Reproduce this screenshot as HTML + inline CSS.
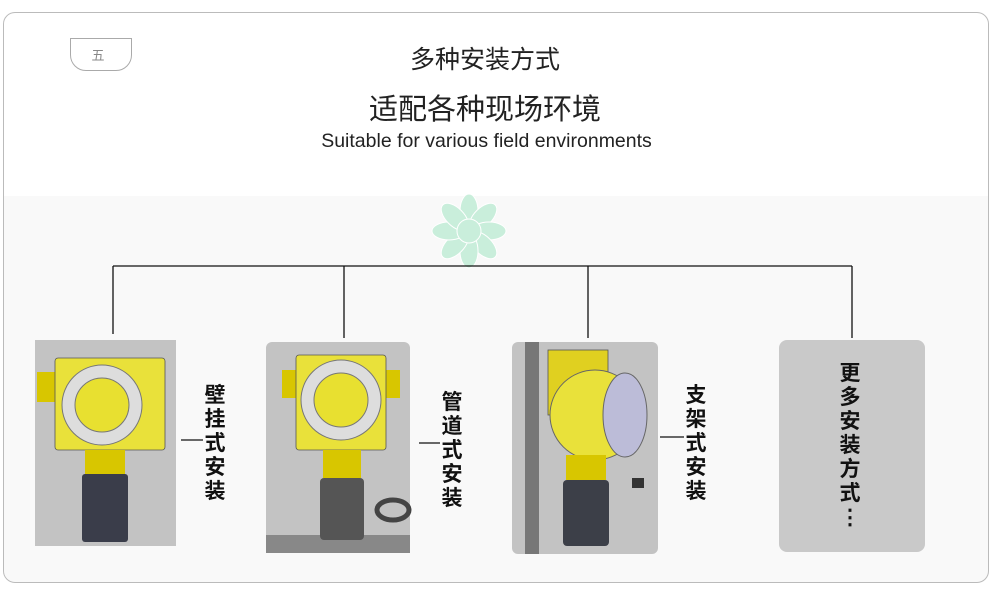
<!DOCTYPE html>
<html><head><meta charset="utf-8"><style>
body{margin:0;width:997px;height:598px;background:#fff;position:relative;overflow:hidden;font-family:"Liberation Sans","Noto Sans CJK SC",sans-serif}
.abs{position:absolute}
.vt{position:absolute;font-size:21px;line-height:24px;color:#111;width:24px;text-align:center;font-weight:bold}
</style></head><body>
<div class="abs" style="left:4px;top:196px;width:985px;height:386px;background:#f9f9f9;border-radius:0 0 12px 12px"></div>
<div class="abs" style="left:3px;top:12px;width:984px;height:569px;border:1px solid #bbb;border-radius:12px"></div>
<div class="abs" style="left:70px;top:38px;width:62px;height:33px;border:1px solid #aaa;border-radius:0 0 16px 16px;font-size:13px;color:#888;text-align:center;line-height:34px;padding-right:6px;box-sizing:border-box">五</div>
<div class="abs" style="left:0;width:970px;top:44px;text-align:center;font-size:25px;line-height:32px;color:#222">多种安装方式</div>
<div class="abs" style="left:0;width:970px;top:91px;text-align:center;font-size:29px;line-height:38px;color:#222">适配各种现场环境</div>
<div class="abs" style="left:0;width:973px;top:129px;text-align:center;font-size:19.5px;line-height:24px;color:#222">Suitable for various field environments</div>
<svg class="abs" style="left:0;top:0" width="997" height="598">
<g transform="translate(469,231)" fill="#c9eedb" stroke="#fff" stroke-width="1">
<g id="p"><ellipse cx="0" cy="-20" rx="9" ry="17"/></g>
<use href="#p" transform="rotate(45)"/><use href="#p" transform="rotate(90)"/><use href="#p" transform="rotate(135)"/><use href="#p" transform="rotate(180)"/><use href="#p" transform="rotate(225)"/><use href="#p" transform="rotate(270)"/><use href="#p" transform="rotate(315)"/>
<circle r="12"/>
</g>
<g stroke="#111" stroke-width="1.3" fill="none">
<path d="M113 266H852M113 266V334M344 266V338M588 266V338M852 266V338"/>
<path d="M181 440H203M419 443H440M660 437H684"/>
</g>
<rect x="35" y="340" width="141" height="206" fill="#c3c3c3"/>
<g>
<rect x="37" y="372" width="108" height="30" fill="#d8c600"/>
<rect x="55" y="358" width="110" height="92" rx="3" fill="#e9e13a" stroke="#555" stroke-width=".8"/>
<circle cx="102" cy="405" r="40" fill="#ddd" stroke="#777"/>
<circle cx="102" cy="405" r="27" fill="#e8e030" stroke="#777"/>
<rect x="85" y="450" width="40" height="25" fill="#d8c600"/>
<rect x="82" y="474" width="46" height="68" rx="3" fill="#3a3d4a"/>
</g>
<rect x="266" y="342" width="144" height="211" rx="6" fill="#c3c3c3"/>
<rect x="266" y="535" width="144" height="18" fill="#888"/>
<g>
<rect x="282" y="370" width="118" height="28" fill="#d8c600"/>
<rect x="296" y="355" width="90" height="95" rx="3" fill="#e9e13a" stroke="#555" stroke-width=".8"/>
<circle cx="341" cy="400" r="40" fill="#ddd" stroke="#777"/>
<circle cx="341" cy="400" r="27" fill="#e8e030" stroke="#777"/>
<rect x="323" y="450" width="38" height="28" fill="#d8c600"/>
<rect x="320" y="478" width="44" height="62" rx="4" fill="#555"/>
<ellipse cx="393" cy="510" rx="16" ry="10" fill="none" stroke="#444" stroke-width="5"/>
</g>
<rect x="512" y="342" width="146" height="212" rx="6" fill="#c3c3c3"/>
<rect x="525" y="342" width="14" height="212" fill="#777"/>
<g>
<rect x="548" y="350" width="60" height="65" fill="#e0d020" stroke="#555" stroke-width=".8"/>
<circle cx="595" cy="415" r="45" fill="#e9e13a" stroke="#666"/>
<ellipse cx="625" cy="415" rx="22" ry="42" fill="#bcbcd8" stroke="#666"/>
<rect x="566" y="455" width="40" height="25" fill="#d8c600"/>
<rect x="563" y="480" width="46" height="66" rx="4" fill="#3c3f48"/>
<rect x="632" y="478" width="12" height="10" fill="#333"/>
</g>
<rect x="779" y="340" width="146" height="212" rx="8" fill="#c9c9c9"/>
</svg>
<div class="vt" style="left:203px;top:384px">壁<br>挂<br>式<br>安<br>装</div>
<div class="vt" style="left:440px;top:391px">管<br>道<br>式<br>安<br>装</div>
<div class="vt" style="left:684px;top:384px">支<br>架<br>式<br>安<br>装</div>
<div class="vt" style="left:838px;top:362px;line-height:24px">更<br>多<br>安<br>装<br>方<br>式<br>⋮</div>
</body></html>
